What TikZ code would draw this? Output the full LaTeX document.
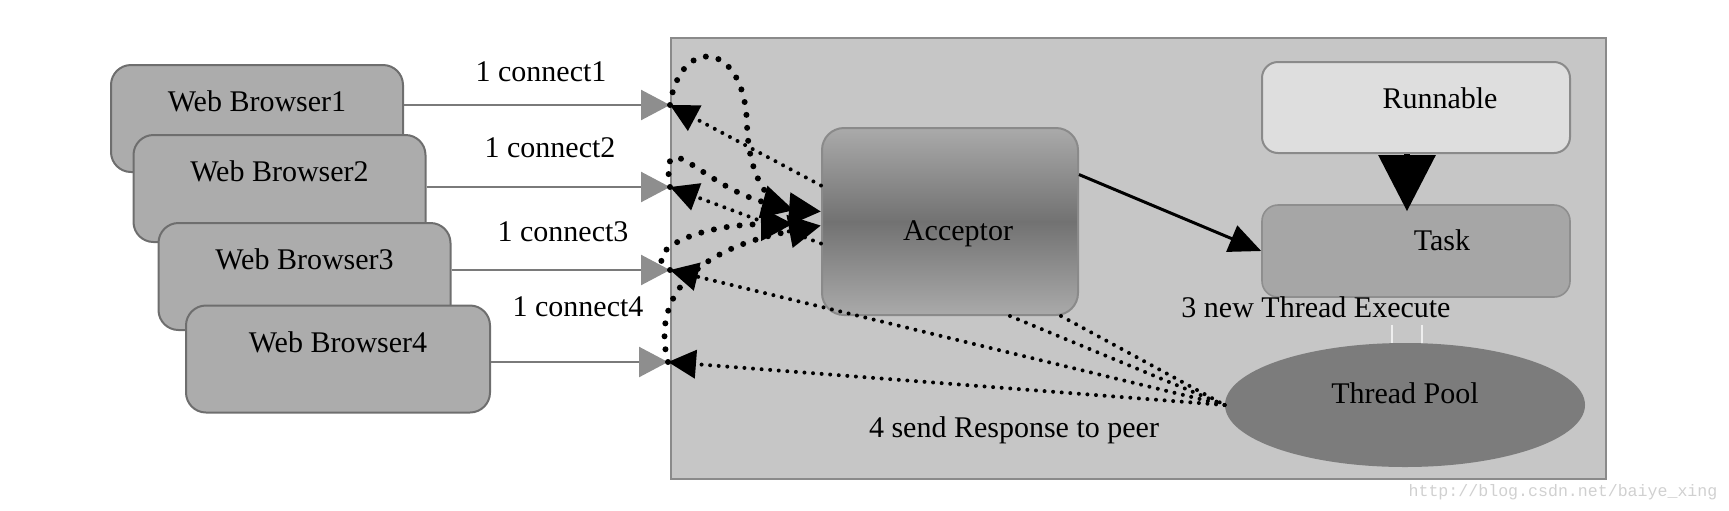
\documentclass[tikz,border=0pt]{standalone}
\usepackage{fontspec}
\setmainfont{Liberation Serif}
\setmonofont{Liberation Mono}
\usetikzlibrary{arrows.meta,shapes.geometric}

\definecolor{srvGray}{HTML}{C6C6C6}
\definecolor{srvEdge}{HTML}{8A8A8A}
\definecolor{boxGray}{HTML}{ACACAC}
\definecolor{boxEdge}{HTML}{6E6E6E}
\definecolor{accLight}{HTML}{AAAAAA}
\definecolor{accDark}{HTML}{727272}
\definecolor{runGray}{HTML}{DEDEDE}
\definecolor{taskGray}{HTML}{A6A6A6}
\definecolor{poolGray}{HTML}{7C7C7C}
\definecolor{arrGray}{HTML}{7A7A7A}
\definecolor{headGray}{HTML}{8E8E8E}
\definecolor{wmGray}{HTML}{D0D0D0}

\begin{document}
\begin{tikzpicture}[
  x=0.5pt, y=-0.5pt,
  font=\fontsize{15}{18}\selectfont,
  server/.style={draw=srvEdge, line width=1pt, fill=srvGray, inner sep=0pt,
                 minimum width=467.5pt, minimum height=220.5pt},
  browser/.style={draw=boxEdge, line width=1pt, fill=boxGray,
                  rounded corners=10pt, minimum width=146pt,
                  minimum height=53.5pt, text depth=17pt},
  acceptor/.style={draw=srvEdge, line width=1pt, rounded corners=11pt,
                   top color=accLight, bottom color=accLight,
                   middle color=accDark, minimum width=128pt,
                   minimum height=93.5pt, text height=21.5pt, text depth=3pt},
  runbox/.style={draw=srvEdge, line width=1pt, fill=runGray,
                 rounded corners=8pt, minimum width=154pt,
                 minimum height=45.5pt, text depth=9.5pt},
  taskbox/.style={draw=headGray, line width=0.8pt, fill=taskGray,
                  rounded corners=8pt, minimum width=154pt,
                  minimum height=46pt, text depth=11pt},
  pool/.style={ellipse, fill=poolGray, minimum width=180pt,
               minimum height=62pt, text depth=12pt},
  garr/.style={draw=arrGray, line width=1.2pt,
               -{Triangle[length=14.5pt,width=15pt,color=headGray]}},
  bdot/.style={line width=3pt, dash pattern=on 0pt off 6.5pt, line cap=round,
               -{Triangle[length=16pt,width=16pt]}},
  fdot/.style={line width=2pt, dash pattern=on 0pt off 4.3pt, line cap=round},
  back/.style={fdot, -{Triangle[length=14pt,width=14pt]}},
  faint/.style={draw=white!70!srvGray, line width=1.2pt}
]
  \useasboundingbox (0,0) rectangle (1729,510);

  % server side
  \node[server] (srv) at (1138.5,258.5) {};

  % clients
  \node[browser] (b1) at (257,118.5) {Web Browser1};
  \node[browser] (b2) at (279.5,188.5) {Web Browser2};
  \node[browser] (b3) at (304.5,276.5) {Web Browser3};
  \node[browser, minimum width=152pt] (b4) at (338,359) {Web Browser4};

  \node[acceptor] (acc) at (950,221.5) {\hspace*{8pt}Acceptor};
  \node[runbox] (run) at (1416,107.5) {\hspace*{24pt}Runnable};
  \node[taskbox] (task) at (1416,251) {\hspace*{26pt}Task};
  \node[pool] (tp) at (1405,405) {Thread Pool};

  \node (lbl1) at (541,72) {1 connect1};
  \node (lbl2) at (550,148) {1 connect2};
  \node (lbl3) at (563,232) {1 connect3};
  \node (lbl4) at (578,307) {1 connect4};
  \node (lbl5) at (1316,307) {3 new Thread Execute};
  \node (lbl6) at (1014,430) {4 send Response to peer};
  \node[font=\ttfamily\fontsize{8.3}{10}\selectfont, text=wmGray] (wm)
    at (1563,492) {http://blog.csdn.net/baiye\_xing};

  \coordinate (tip1) at (670,105);
  \coordinate (tip2) at (670,187);
  \coordinate (tip3) at (670,270);
  \coordinate (tip4) at (668,362);

  % 1 connect
  \draw[garr] (b1.east |- tip1) -- (tip1);
  \draw[garr] (b2.east |- tip2) -- (tip2);
  \draw[garr] (b3.east |- tip3) -- (tip3);
  \draw[garr] (b4.east |- tip4) -- (tip4);

  % accept
  \draw[bdot] (tip1) .. controls (680,35) and (745,40) .. (747,125)
    .. controls (749,185) and (775,208) .. ([yshift=5pt]acc.west);
  \draw[bdot, shorten >=14pt] (tip2) .. controls (660,120) and (700,185)
    .. ([yshift=2pt]acc.west);
  \draw[bdot, shorten >=14pt] (tip3) .. controls (640,255) and (690,225)
    .. ([yshift=-1pt]acc.west);
  \draw[bdot] (tip4) .. controls (652,300) and (690,250)
    .. ([yshift=-2pt]acc.west);

  % back to the peers
  \draw[back] ([yshift=18pt]acc.west) -- (tip1);
  \draw[back] ([yshift=-11pt]acc.west) -- (tip2);
  \draw[back] (tp.west) -- (tip3);
  \draw[back] (tp.west) -- (tip4);
  \draw[fdot] ([xshift=30pt]acc.south) -- (tp.west);
  \draw[fdot] ([xshift=-9pt]acc.south east) -- (tp.west);

  % task
  \draw[line width=1.5pt, -{Triangle[length=16pt,width=14pt]}]
    (acc.20) -- (task.west);
  \draw[line width=3pt, -{Triangle[length=28pt,width=28pt]}]
    ([xshift=-4.5pt]run.south) -- ([xshift=-4.5pt,yshift=-3.5pt]task.north);
  \draw[faint] ([xshift=-12pt]task.south |- lbl5.south)
    -- ([xshift=-12pt]task.south |- tp.north);
  \draw[faint] ([xshift=3pt]task.south |- lbl5.south)
    -- ([xshift=3pt]task.south |- tp.north);
\end{tikzpicture}
\end{document}
